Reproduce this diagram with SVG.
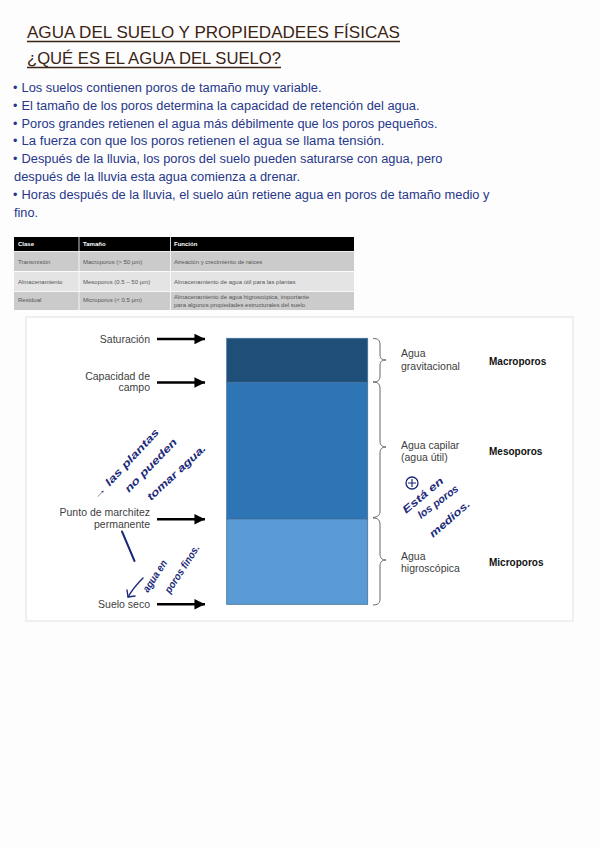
<svg xmlns="http://www.w3.org/2000/svg" width="600" height="848" viewBox="0 0 600 848">
<defs>
<style>
.title{font-family:"Liberation Sans","DejaVu Sans",sans-serif;font-size:17px;fill:#3b2314;}
.ul{stroke:#3b2314;stroke-width:1.3;}
.bul{font-family:"Liberation Sans","DejaVu Sans",sans-serif;font-size:12.5px;fill:#26378a;}
.th{font-family:"Liberation Sans",sans-serif;font-size:6px;font-weight:bold;fill:#ffffff;}
.td{font-family:"Liberation Sans",sans-serif;font-size:6px;fill:#555555;}
.lbl{font-family:"Liberation Sans","DejaVu Sans",sans-serif;font-size:10.5px;fill:#404040;}
.bold{font-family:"Liberation Sans","DejaVu Sans",sans-serif;font-size:10px;font-weight:bold;fill:#111111;}
.hw{font-family:"Liberation Sans","DejaVu Sans",sans-serif;font-style:italic;font-weight:bold;font-size:10.5px;fill:#1c2a7a;}
.brace{fill:none;stroke:#555555;stroke-width:0.9;}
.arr{stroke:#000000;stroke-width:2.4;marker-end:url(#ah);}
</style>
<marker id="ah" viewBox="0 0 10 10" refX="10" refY="5" markerWidth="6" markerHeight="4.4" markerUnits="strokeWidth" orient="auto">
<path d="M0,0 L10,5 L0,10 z" fill="#000000"/>
</marker>
</defs>
<rect x="0" y="0" width="600" height="848" fill="#fdfdfd"/>

<g id="title">
<text class="title" x="27" y="38" textLength="373" lengthAdjust="spacingAndGlyphs">AGUA DEL SUELO Y PROPIEDADEES FÍSICAS</text>
<line class="ul" x1="27" y1="41.5" x2="400" y2="41.5"/>
<text class="title" x="27" y="64" textLength="254" lengthAdjust="spacingAndGlyphs">¿QUÉ ES EL AGUA DEL SUELO?</text>
<line class="ul" x1="27" y1="67.5" x2="281" y2="67.5"/>
</g>

<g id="bullets">
<text class="bul" x="13" y="92">•</text>
<text class="bul" x="21.5" y="92" textLength="300" lengthAdjust="spacingAndGlyphs">Los suelos contienen poros de tamaño muy variable.</text>
<text class="bul" x="13" y="109.5">•</text>
<text class="bul" x="21.5" y="109.5" textLength="398" lengthAdjust="spacingAndGlyphs">El tamaño de los poros determina la capacidad de retención del agua.</text>
<text class="bul" x="13" y="127.5">•</text>
<text class="bul" x="21.5" y="127.5" textLength="416" lengthAdjust="spacingAndGlyphs">Poros grandes retienen el agua más débilmente que los poros pequeños.</text>
<text class="bul" x="13" y="145">•</text>
<text class="bul" x="21.5" y="145" textLength="363" lengthAdjust="spacingAndGlyphs">La fuerza con que los poros retienen el agua se llama tensión.</text>
<text class="bul" x="13" y="163">•</text>
<text class="bul" x="21.5" y="163" textLength="421" lengthAdjust="spacingAndGlyphs">Después de la lluvia, los poros del suelo pueden saturarse con agua, pero</text>
<text class="bul" x="14" y="181" textLength="286" lengthAdjust="spacingAndGlyphs">después de la lluvia esta agua comienza a drenar.</text>
<text class="bul" x="13" y="199">•</text>
<text class="bul" x="21.5" y="199" textLength="468" lengthAdjust="spacingAndGlyphs">Horas después de la lluvia, el suelo aún retiene agua en poros de tamaño medio y</text>
<text class="bul" x="14" y="216.5" textLength="24" lengthAdjust="spacingAndGlyphs">fino.</text>
</g>

<g id="table">
<rect x="14" y="237" width="340" height="14.5" fill="#000000"/>
<rect x="14" y="251.5" width="340" height="20" fill="#cbcbcb"/>
<rect x="14" y="271.5" width="340" height="20" fill="#e4e4e4"/>
<rect x="14" y="291.5" width="340" height="18.5" fill="#cbcbcb"/>
<g stroke="#ffffff" stroke-width="0.8">
<line x1="79" y1="237" x2="79" y2="310"/>
<line x1="170.5" y1="237" x2="170.5" y2="310"/>
<line x1="14" y1="251.5" x2="354" y2="251.5"/>
<line x1="14" y1="271.5" x2="354" y2="271.5"/>
<line x1="14" y1="291.5" x2="354" y2="291.5"/>
</g>
<text class="th" x="18" y="246">Clase</text>
<text class="th" x="83" y="246">Tamaño</text>
<text class="th" x="174" y="246">Función</text>
<text class="td" x="18" y="264">Transmisión</text>
<text class="td" x="83" y="264">Macroporos (&gt; 50 µm)</text>
<text class="td" x="174" y="264">Aireación y crecimiento de raíces</text>
<text class="td" x="18" y="284">Almacenamiento</text>
<text class="td" x="83" y="284">Mesoporos (0.5 – 50  µm)</text>
<text class="td" x="174" y="284">Almacenamiento de agua útil para las plantas</text>
<text class="td" x="18" y="302">Residual</text>
<text class="td" x="83" y="302">Microporos (&lt; 0.5  µm)</text>
<text class="td" x="174" y="298.5">Almacenamiento de agua higroscópica, importante</text>
<text class="td" x="174" y="306.5">para algunos propiedades estructurales del suelo</text>
</g>

<rect x="26" y="317" width="547" height="304" fill="#ffffff" stroke="#efefef" stroke-width="2"/>

<g id="bar">
<rect x="226.7" y="338.3" width="141" height="44" fill="#1f4e79" stroke="#41719c" stroke-width="0.8"/>
<rect x="226.7" y="382.3" width="141" height="136.7" fill="#2e75b6" stroke="#41719c" stroke-width="0.8"/>
<rect x="226.7" y="519" width="141" height="85.3" fill="#5b9bd5" stroke="#41719c" stroke-width="0.8"/>
</g>

<g id="connectors">
<line class="arr" x1="157" y1="339" x2="205" y2="339"/>
<line class="arr" x1="157" y1="382.5" x2="205" y2="382.5"/>
<line class="arr" x1="157" y1="519.3" x2="205" y2="519.3"/>
<line class="arr" x1="157" y1="604.3" x2="205" y2="604.3"/>
<path class="brace" d="M373,338.5 C378,338.5 380,340 380,345 L380,355 C380,358.5 382,360 386,360 C382,360 380,361.5 380,365 L380,376 C380,380 378,382 373,382"/>
<path class="brace" d="M373,382 C378,382 380,384 380,389 L380,441 C380,445 382,447 386,447 C382,447 380,449 380,453 L380,511 C380,515 378,517 373,517.5"/>
<path class="brace" d="M373,518 C378,518 380,520 380,525 L380,554 C380,558 382,560 386,560 C382,560 380,562 380,566 L380,599 C380,603 378,605 373,605"/>
</g>

<g id="left-labels">
<text class="lbl" x="150" y="342.5" text-anchor="end">Saturación</text>
<text class="lbl" x="150" y="379.5" text-anchor="end">Capacidad de</text>
<text class="lbl" x="150" y="391" text-anchor="end">campo</text>
<text class="lbl" x="150" y="516" text-anchor="end">Punto de marchitez</text>
<text class="lbl" x="150" y="527.8" text-anchor="end">permanente</text>
<text class="lbl" x="150" y="608" text-anchor="end">Suelo seco</text>
</g>

<g id="right-labels">
<text class="lbl" x="401" y="357">Agua</text>
<text class="lbl" x="401" y="370">gravitacional</text>
<text class="bold" x="489" y="364.5">Macroporos</text>
<text class="lbl" x="401" y="448.5">Agua capilar</text>
<text class="lbl" x="401" y="460.5">(agua útil)</text>
<text class="bold" x="489" y="454.5">Mesoporos</text>
<text class="lbl" x="401" y="560">Agua</text>
<text class="lbl" x="401" y="572">higroscópica</text>
<text class="bold" x="489" y="565.5">Microporos</text>
</g>

<g id="note-plantas">
<text class="hw" transform="translate(97,500) rotate(-47)" textLength="92" lengthAdjust="spacingAndGlyphs">→ las plantas</text>
<text class="hw" transform="translate(129,493) rotate(-46)" textLength="70" lengthAdjust="spacingAndGlyphs">no pueden</text>
<text class="hw" transform="translate(151,501) rotate(-43)" textLength="76" lengthAdjust="spacingAndGlyphs">tomar agua.</text>
</g>

<g id="note-linea">
<line x1="122" y1="531.5" x2="134.5" y2="561" stroke="#1c2a7a" stroke-width="2" stroke-linecap="round"/>
</g>

<g id="note-finos">
<path d="M143,578 C137,584 132,590 128,597" fill="none" stroke="#1c2a7a" stroke-width="1.4" stroke-linecap="round"/>
<path d="M127,590 L128,597 L135,596" fill="none" stroke="#1c2a7a" stroke-width="1.4" stroke-linecap="round" stroke-linejoin="round"/>
<text class="hw" transform="translate(148,593) rotate(-57)" textLength="36" lengthAdjust="spacingAndGlyphs">agua en</text>
<text class="hw" transform="translate(170,594) rotate(-57)" textLength="55" lengthAdjust="spacingAndGlyphs">poros finos.</text>
</g>

<g id="note-medios">
<circle cx="412" cy="483" r="6" fill="none" stroke="#1c2a7a" stroke-width="1.3"/>
<path d="M412,479 L412,487 M408,483 L416,483" stroke="#1c2a7a" stroke-width="1.2"/>
<text class="hw" transform="translate(406,514) rotate(-40)" textLength="50" lengthAdjust="spacingAndGlyphs">Está en</text>
<text class="hw" transform="translate(421,519) rotate(-37)" textLength="48" lengthAdjust="spacingAndGlyphs">los poros</text>
<text class="hw" transform="translate(433,538) rotate(-41)" textLength="50" lengthAdjust="spacingAndGlyphs">medios.</text>
</g>
</svg>
